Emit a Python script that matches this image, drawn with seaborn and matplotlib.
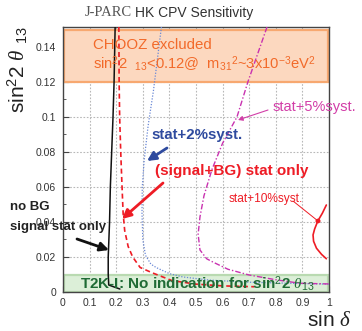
import matplotlib
matplotlib.use("Agg")
import matplotlib.pyplot as plt
import seaborn as sns
import pandas as pd
from matplotlib.patches import Rectangle

# Sensitivity contours (sin delta, sin^2 2theta13)
nobg_x = [0.214, 0.190, 0.172, 0.170, 0.170, 0.175, 0.178, 0.183, 0.188, 0.192, 0.196]
nobg_y = [0.0017, 0.003, 0.004, 0.010, 0.020, 0.040, 0.060, 0.080, 0.100, 0.120, 0.1514]

stat_x = [0.210, 0.211, 0.213, 0.217, 0.222, 0.226, 0.232, 0.245, 0.262, 0.290, 0.335, 0.410, 0.500, 0.600, 0.720]
stat_y = [0.1514, 0.120, 0.100, 0.080, 0.060, 0.045, 0.035, 0.026, 0.020, 0.014, 0.011, 0.0065, 0.0045, 0.0035, 0.003]

syst2_x = [0.370, 0.340, 0.320, 0.305, 0.298, 0.297, 0.300, 0.310, 0.330, 0.350, 0.400, 0.450, 0.550, 0.700, 0.850, 1.000]
syst2_y = [0.1514, 0.115, 0.095, 0.075, 0.060, 0.045, 0.030, 0.021, 0.016, 0.014, 0.0105, 0.0086, 0.0068, 0.0056, 0.005, 0.0045]

syst5_x = [0.767, 0.695, 0.654, 0.600, 0.560, 0.530, 0.515, 0.508, 0.515, 0.540, 0.565, 0.620, 0.700, 0.800, 0.890, 1.000]
syst5_y = [0.1514, 0.120, 0.100, 0.085, 0.070, 0.055, 0.043, 0.033, 0.024, 0.019, 0.017, 0.013, 0.0097, 0.007, 0.005, 0.0046]

syst10_x = [0.990, 0.975, 0.958, 0.946, 0.940, 0.942, 0.953, 0.972, 0.990]
syst10_y = [0.0497, 0.0450, 0.0406, 0.0360, 0.0326, 0.0290, 0.0250, 0.0215, 0.0190]

x_ticks = [0, 0.1, 0.2, 0.3, 0.4, 0.5, 0.6, 0.7, 0.8, 0.9, 1]
x_labels = ["0", "0.1", "0.2", "0.3", "0.4", "0.5", "0.6", "0.7", "0.8", "0.9", "1"]
y_ticks = [0, 0.02, 0.04, 0.06, 0.08, 0.10, 0.12, 0.14]
y_labels = ["0", "0.02", "0.04", "0.06", "0.08", "0.1", "0.12", "0.14"]

chooz_limit = 0.12
t2k_band = 0.0097

sns.set_theme(style="white")
plt.rcParams['font.family'] = ['Liberation Sans', 'DejaVu Sans']
plt.rcParams['mathtext.fontset'] = 'custom'
plt.rcParams['mathtext.rm'] = 'Liberation Sans'
plt.rcParams['mathtext.it'] = 'Liberation Serif:italic'
plt.rcParams['mathtext.bf'] = 'Liberation Sans:bold'

W, H = 362, 331
YTOP = 0.1514
fig = plt.figure(figsize=(W / 100, H / 100), dpi=100)
ax = fig.add_axes([63 / W, 39 / H, 266 / W, 265 / H])


def fp(x, y):
    """pixel position -> figure fraction"""
    return (x / W, 1 - y / H)


# dotted reference grid
for gx in x_ticks[1:-1]:
    ax.axvline(gx, color='#b8b8b8', lw=0.8, ls=(0, (1.5, 1.5)), zorder=0.5)
for gy in y_ticks[1:]:
    ax.axhline(gy, color='#b8b8b8', lw=0.8, ls=(0, (1.5, 1.5)), zorder=0.5)

# shaded regions
ax.add_patch(Rectangle((0.004, chooz_limit), 0.992, YTOP - chooz_limit - 0.0015,
                       facecolor='#fcd8bf', edgecolor='#f7a870', lw=1.6, zorder=1))
ax.add_patch(Rectangle((0.004, 0.0), 0.992, t2k_band,
                       facecolor='#dcefd8', edgecolor='#b9dab1', lw=1.6, zorder=1))

curves = [
    (nobg_x, nobg_y, '#111111', '-', 1.1),
    (stat_x, stat_y, '#ee1c25', (0, (3, 2)), 1.2),
    (syst2_x, syst2_y, '#6a88d6', (0, (1, 1.3)), 0.9),
    (syst5_x, syst5_y, '#c932b0', (0, (4, 1.5, 1, 1.5)), 1.0),
    (syst10_x, syst10_y, '#ee1c25', '-', 1.2),
]
for cx, cy, col, ls, lw in curves:
    df = pd.DataFrame({'sd': cx, 's2t': cy})
    sns.lineplot(data=df, x='sd', y='s2t', sort=False, estimator=None, ax=ax,
                 color=col, linestyle=ls, lw=lw, zorder=3)

ax.set_xlim(0, 1)
ax.set_ylim(0, YTOP)
ax.set_xticks(x_ticks)
ax.set_xticklabels(x_labels)
ax.set_yticks(y_ticks)
ax.set_yticklabels(y_labels)
ax.set_xticks([i * 0.05 for i in range(21)], minor=True)
ax.set_yticks([i * 0.01 for i in range(16)], minor=True)
ax.tick_params(which='both', direction='in', colors='#444444', labelcolor='#333333',
               labelsize=7.5, left=True, bottom=True)
ax.tick_params(which='major', length=4, width=0.8)
ax.tick_params(which='minor', length=2, width=0.6)
ax.tick_params(axis='y', pad=5)
ax.tick_params(axis='x', pad=4)
ax.set_xlabel('')
ax.set_ylabel('')
for s in ax.spines.values():
    s.set_color('#444444')
    s.set_linewidth(1.0)

# title
fig.text(*fp(85, 13), 'J-PARC', family='Liberation Serif', fontsize=10.5,
         color='#555555', ha='left', va='center')
fig.text(*fp(135, 13), 'HK CPV Sensitivity', fontsize=10, color='#333333',
         ha='left', va='center')

# axis titles
fig.text(*fp(18, 70), r'sin$^2$2 $\theta$ $_{13}$', fontsize=15, rotation=90,
         ha='center', va='center', color='#222222')
fig.text(*fp(329, 321), r'sin $\delta$', fontsize=15, ha='center', va='center',
         color='#222222')

# region labels
fig.text(*fp(93, 45), 'CHOOZ excluded', fontsize=10.8, color='#f26a2a',
         ha='left', va='center', zorder=5)
fig.text(*fp(93, 64), r'sin$^2$2  $_{13}$<0.12@  m$_{31}$$^2$~3x10$^{-3}$eV$^2$',
         fontsize=10.6, color='#f26a2a', ha='left', va='center', zorder=5)
fig.text(*fp(80, 284), r'T2K-I: No indication for sin$^2$2 $\theta_{13}$',
         fontsize=11, fontweight='bold', color='#1f6b35', ha='left',
         va='center', zorder=5)

# curve labels and pointers
fig.text(*fp(273, 107), 'stat+5%syst.', fontsize=10.5, color='#d23ea8',
         ha='left', va='center')
ax.annotate('', xy=fp(238, 120), xytext=fp(268, 110), xycoords='figure fraction',
            textcoords='figure fraction',
            arrowprops=dict(arrowstyle='-|>', color='#d23ea8', lw=0.8,
                            mutation_scale=7, shrinkA=0, shrinkB=0))

fig.text(*fp(151, 135), 'stat+2%syst.', fontsize=10.8, fontweight='bold',
         color='#2e4a9e', ha='left', va='center')
ax.annotate('', xy=fp(147, 161), xytext=fp(167, 148), xycoords='figure fraction',
            textcoords='figure fraction',
            arrowprops=dict(arrowstyle='-|>', color='#2e4a9e', lw=2.0,
                            mutation_scale=13, shrinkA=0, shrinkB=0))

fig.text(*fp(155, 171), '(signal+BG) stat only', fontsize=11, fontweight='bold',
         color='#ee1c25', ha='left', va='center')
ax.annotate('', xy=fp(122, 219), xytext=fp(163, 183), xycoords='figure fraction',
            textcoords='figure fraction',
            arrowprops=dict(arrowstyle='-|>', color='#ee1c25', lw=2.0,
                            mutation_scale=13, shrinkA=0, shrinkB=0))

fig.text(*fp(229, 199), 'stat+10%syst.', fontsize=8.6, color='#ee1c25',
         ha='left', va='center')
ax.annotate('', xy=fp(318, 221), xytext=fp(293, 201), xycoords='figure fraction',
            textcoords='figure fraction',
            arrowprops=dict(arrowstyle='-', color='#ee1c25', lw=0.7,
                            shrinkA=0, shrinkB=0))
fig.patches.append(plt.Circle(fp(318, 221), 1.8 / W, transform=fig.transFigure,
                              color='#ee1c25', figure=fig))

fig.text(*fp(10, 207), 'no BG', fontsize=9.5, fontweight='bold', color='#222222',
         ha='left', va='center')
fig.text(*fp(10, 227), 'signal stat only', fontsize=9.5, fontweight='bold',
         color='#222222', ha='left', va='center', zorder=6)
ax.annotate('', xy=fp(109, 250), xytext=fp(77, 239), xycoords='figure fraction',
            textcoords='figure fraction',
            arrowprops=dict(arrowstyle='-|>', color='#111111', lw=2.0,
                            mutation_scale=13, shrinkA=0, shrinkB=0))

fig.savefig('out.png', dpi=100)
